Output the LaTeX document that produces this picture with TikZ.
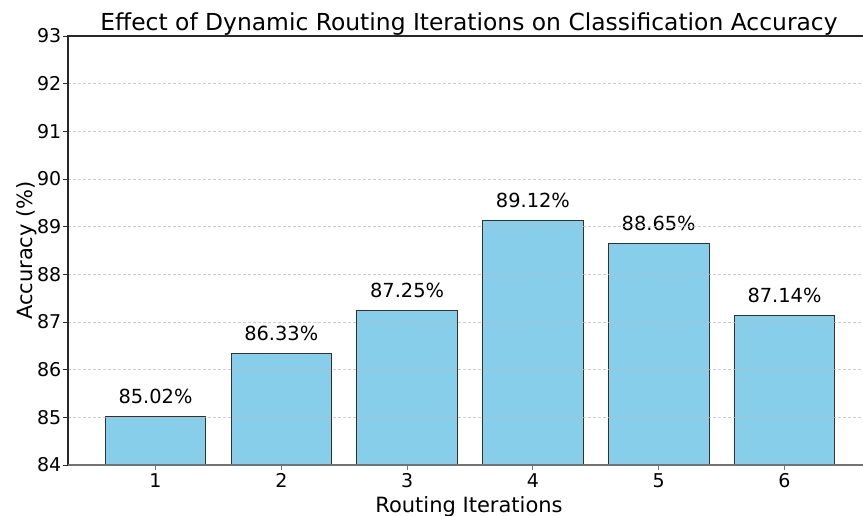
\documentclass[tikz,border=0pt]{standalone}
\usepackage{fontspec}
\setmainfont{DejaVu Sans}
\definecolor{barfill}{RGB}{135,206,235}
\definecolor{baredge}{RGB}{50,50,50}
\definecolor{spine}{RGB}{40,40,40}
\definecolor{gridc}{RGB}{185,185,185}
\begin{document}
\begin{tikzpicture}[x=1pt,y=-1pt,
  barbox/.style={fill=barfill,draw=baredge,line width=0.9pt},
  gridline/.style={draw=gridc,line width=0.5pt,dash pattern=on 3pt off 2pt,draw opacity=0.7},
  spineline/.style={draw=spine,line width=1.1pt},
  tickline/.style={draw=spine,line width=0.9pt},
  ticklab/.style={font=\fontsize{19}{19}\selectfont,inner sep=0pt},
  barlab/.style={font=\fontsize{19.4}{19.4}\selectfont,inner sep=0pt,anchor=base},
  axlab/.style={font=\fontsize{21}{21}\selectfont,inner sep=0pt,anchor=base},
  titlelab/.style={font=\fontsize{23.4}{23.4}\selectfont,inner sep=0pt,anchor=base}]
\useasboundingbox (0,0) rectangle (863,516);
% bars
\foreach \i/\v/\t in {1/85.02/85.02\%,2/86.33/86.33\%,3/87.25/87.25\%,4/89.12/89.12\%,5/88.65/88.65\%,6/87.14/87.14\%}{
  \pgfmathsetmacro{\cx}{155.5+(\i-1)*125.8}
  \pgfmathsetmacro{\ty}{465-(\v-84)*47.667}
  \path[barbox] (\cx-50.3,465) rectangle (\cx+50.3,\ty);
  \node[barlab] (lab\i) at (\cx,\ty-13) {\t};
  \draw[tickline,draw=black!55] (\cx,465) -- (\cx,470);
  \node[ticklab,anchor=base] (xt\i) at (\cx,487) {\i};
}
% grid lines
\foreach \k in {85,...,92}{
  \pgfmathsetmacro{\gy}{465-(\k-84)*47.667}
  \path[gridline] (68,\gy) -- (863,\gy);
}
% y ticks
\foreach \k in {84,...,93}{
  \pgfmathsetmacro{\gy}{465-(\k-84)*47.667}
  \draw[tickline] (63,\gy) -- (68,\gy);
  \node[ticklab,anchor=east] (yt\k) at (61.5,\gy) {\k};
}
% spines
\coordinate (tl) at (68,36);
\coordinate (bl) at (68,465);
\coordinate (tr) at (863,36);
\coordinate (br) at (863,465);
\path[spineline] (bl) -- (tl) -- (tr);
\path[spineline,draw=black!55] (bl) -- (br);
% labels
\node[titlelab] (title) at (469,31) {Effect of Dynamic Routing Iterations on Classification Accuracy};
\node[axlab] (xlabel) at (469,512) {Routing Iterations};
\node[axlab,rotate=90] (ylabel) at (32,250.5) {Accuracy (\%)};
\end{tikzpicture}
\end{document}
